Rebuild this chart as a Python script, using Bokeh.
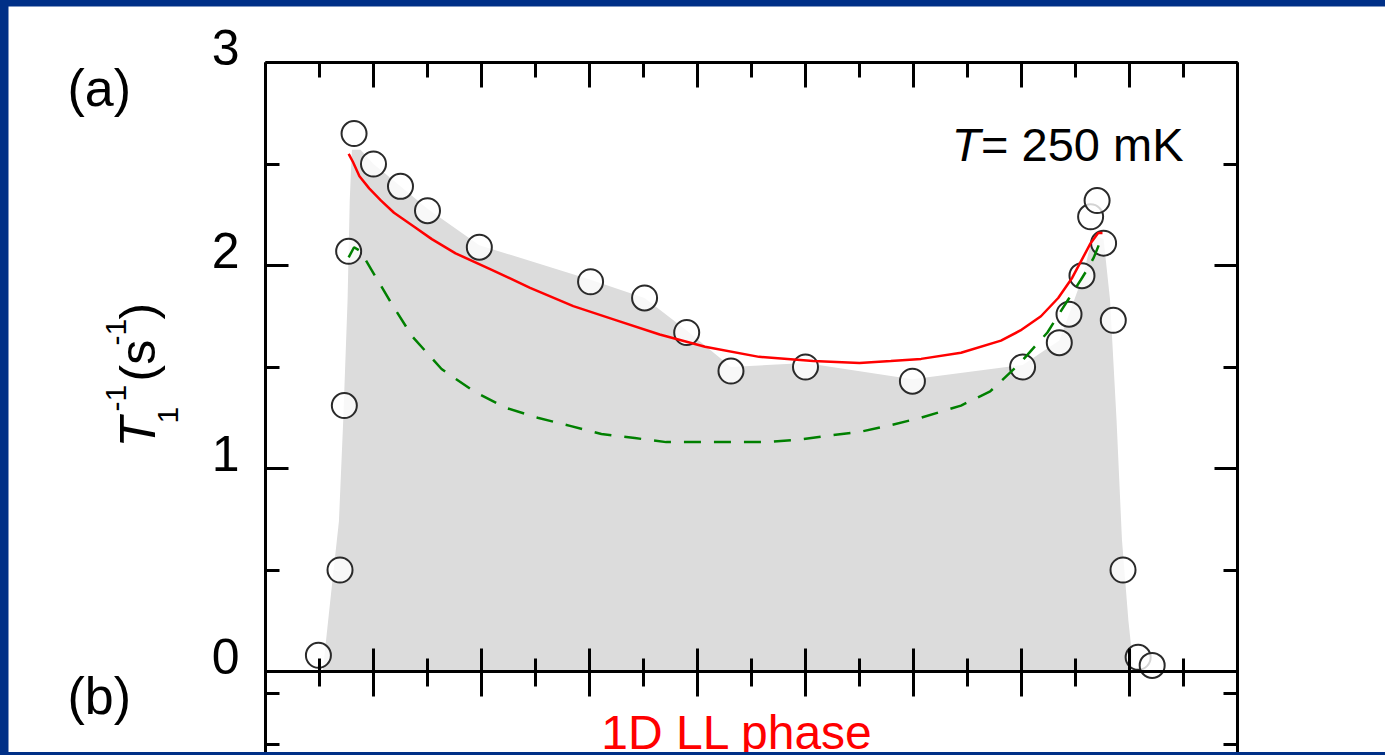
from bokeh.plotting import figure
from bokeh.models import Range1d, FixedTicker, LinearAxis, Label
from bokeh.embed import file_html
from bokeh.resources import INLINE

# ---------------- data ----------------
field = [6.49, 6.69, 6.73, 6.77, 6.82, 7.00, 7.25, 7.50, 7.98, 9.01, 9.51, 9.90, 10.31,
         11.00, 11.99, 13.01, 13.35, 13.44, 13.56, 13.64, 13.70, 13.76, 13.85, 13.94,
         14.08, 14.21]
rate = [0.08, 0.50, 1.31, 2.07, 2.65, 2.50, 2.39, 2.27, 2.09, 1.92, 1.84, 1.67, 1.48,
        1.50, 1.43, 1.50, 1.62, 1.76, 1.95, 2.24, 2.32, 2.11, 1.73, 0.50,
        0.07, 0.03]

fit_field = [6.77, 6.81, 6.87, 6.96, 7.07, 7.19, 7.38, 7.54, 7.76, 8.09, 8.45, 8.85, 9.25,
             9.65, 10.07, 10.57, 11.07, 11.50, 11.79, 12.07, 12.44, 12.81, 12.99, 13.18,
             13.34, 13.47, 13.57, 13.64, 13.71, 13.75]
fit_rate = [2.55, 2.51, 2.44, 2.38, 2.32, 2.26, 2.19, 2.13, 2.06, 1.98, 1.89, 1.80, 1.73,
            1.66, 1.60, 1.55, 1.53, 1.52, 1.53, 1.54, 1.57, 1.63, 1.68, 1.75,
            1.84, 1.94, 2.04, 2.11, 2.16, 2.16]

model_field = [6.77, 6.82, 6.88, 6.98, 7.17, 7.36, 7.63, 7.93, 8.22, 8.52, 8.82, 9.11,
               9.42, 9.71, 10.01, 10.31, 10.60, 10.90, 11.19, 11.50, 11.76, 12.07, 12.44,
               12.71, 12.97, 13.24, 13.43, 13.55, 13.62, 13.67, 13.73]
model_rate = [2.04, 2.09, 2.07, 1.98, 1.81, 1.65, 1.49, 1.38, 1.30, 1.25, 1.21, 1.17,
              1.15, 1.13, 1.13, 1.13, 1.13, 1.14, 1.16, 1.18, 1.21, 1.25, 1.31,
              1.38, 1.51, 1.67, 1.83, 1.93, 1.99, 2.04, 2.12]

shade_field = [6.53, 6.60, 6.68, 6.72, 6.76, 6.78, 6.80, 6.88, 7.00, 7.25, 7.50, 7.98,
               9.01, 9.51, 9.90, 10.31, 11.00, 11.99, 13.01, 13.35, 13.44, 13.57, 13.66,
               13.76, 13.82, 13.88, 13.93, 13.99, 14.04]
shade_rate = [0.00, 0.35, 0.74, 1.24, 1.83, 2.32, 2.57, 2.57, 2.50, 2.39, 2.28, 2.10,
              1.93, 1.84, 1.68, 1.50, 1.52, 1.44, 1.51, 1.63, 1.76, 1.95, 2.15,
              2.13, 1.83, 1.24, 0.65, 0.25, 0.00]

x_major = [6, 7, 8, 9, 10, 11, 12, 13, 14, 15]
x_minor = [6.5, 7.5, 8.5, 9.5, 10.5, 11.5, 12.5, 13.5, 14.5]
y_major = [0, 1, 2, 3]
y_major_labels = ["0", "1", "2", "3"]
y_minor = [-0.36, -0.11, 0.5, 1.5, 2.5]

X_LO, X_HI = 6.0, 15.0      # panel (a) box
Y_LO, Y_HI = 0.0, 3.0
Y_PANEL_B = -0.399          # visible top of panel (b)

FONT = "Liberation Sans"
BLUE = "#003087"
SHIFT = 0.40                # raise labels so the baseline lands on the anchor

p = figure(width=1377, height=746,
           x_range=Range1d(3.6204, 16.3704), y_range=Range1d(Y_PANEL_B, 3.2759),
           output_backend="svg", toolbar_location=None,
           min_border=0, min_border_left=0, min_border_right=0,
           min_border_top=0, min_border_bottom=0,
           x_axis_location=None, y_axis_location=None)
p.outline_line_color = None
p.background_fill_color = "white"
p.border_fill_color = "white"
p.grid.grid_line_color = None

xt = FixedTicker(ticks=x_major, minor_ticks=x_minor)
yt = FixedTicker(ticks=y_major, minor_ticks=y_minor)


def style(ax, mi, mo, ni, no):
    ax.axis_line_width = 3
    ax.axis_line_color = "black"
    ax.major_tick_line_width = 3
    ax.minor_tick_line_width = 3
    ax.major_tick_line_color = "black"
    ax.minor_tick_line_color = "black"
    ax.major_tick_in = mi
    ax.major_tick_out = mo
    ax.minor_tick_in = ni
    ax.minor_tick_out = no
    ax.major_label_text_color = None
    ax.major_label_standoff = 0


bottom = LinearAxis(ticker=xt, fixed_location=Y_LO, bounds=(X_LO, X_HI))
style(bottom, 23, 25, 13, 15)
p.add_layout(bottom, "below")
top = LinearAxis(ticker=xt, fixed_location=Y_HI, bounds=(X_LO, X_HI))
style(top, 25, 0, 15, 0)
p.add_layout(top, "above")
left = LinearAxis(ticker=yt, fixed_location=X_LO, bounds=(Y_PANEL_B, Y_HI))
style(left, 23, 0, 14, 0)
p.add_layout(left, "left")
right = LinearAxis(ticker=yt, fixed_location=X_HI, bounds=(Y_PANEL_B, Y_HI))
style(right, 23, 0, 14, 0)
p.add_layout(right, "right")

# shaded region, data, curves
p.patch(shade_field, shade_rate, fill_color="#dcdcdc", line_color=None)
p.scatter(field, rate, marker="circle", size=25, fill_color="white", fill_alpha=0.8,
          line_color="#2a2a2a", line_width=2)
p.line(fit_field, fit_rate, line_color="#ff0000", line_width=2.5)
p.line(model_field, model_rate, line_color="#008000", line_width=2.5, line_dash="17 13")


def label(text, x, y, fs, xo=0, yo=0, align="left", style="normal", color="black",
          rotated=False):
    if rotated:
        xo -= SHIFT * fs
        ang = 1.5707963
    else:
        yo += SHIFT * fs
        ang = 0.0
    p.add_layout(Label(x=x, y=y, x_offset=xo, y_offset=yo, text=text, angle=ang,
                       text_align=align, text_baseline="alphabetic",
                       text_font=FONT, text_font_size="%dpx" % fs,
                       text_font_style=style, text_color=color))


# y tick labels (sit a little above their ticks, as in the original)
for v, t in zip(y_major, y_major_labels):
    label(t, X_LO, v, 50, xo=-26, yo=-5, align="right")

# y axis title  T_1^-1 (s^-1), rotated
title_parts = [
    ("T", 1.103, -107, 50, "italic"),
    ("1", 1.222, -85, 30, "normal"),
    ("-1", 1.281, -137, 30, "normal"),
    ("(s", 1.429, -107, 50, "normal"),
    ("-1", 1.606, -137, 30, "normal"),
    (")", 1.734, -107, 50, "normal"),
]
for txt, yy, xo, fs, st in title_parts:
    label(txt, X_LO, yy, fs, xo=xo, style=st, rotated=True)

# panel labels and annotations
label("(a)", X_LO, 2.773, 52, xo=-198)
label("(b)", X_LO, -0.222, 52, xo=-198)
label("T", 12.62, 2.502, 47, align="right", style="italic")
label("= 250 mK", 14.5, 2.502, 47, align="right")
label("1D LL phase", 10.37, Y_PANEL_B, 48, yo=1, align="center", color="#ff0000")

html = file_html(p, INLINE)
css = ("<style>html{background:%s !important;overflow:hidden !important;}"
       "body{margin:6px 0 0 8px !important;padding:0 !important;background:%s !important;"
       "height:auto !important;}</style>" % (BLUE, BLUE))
i = html.rfind("</head>")
if i >= 0:
    html = html[:i] + css + html[i:]
open("out.html", "w").write(html)
